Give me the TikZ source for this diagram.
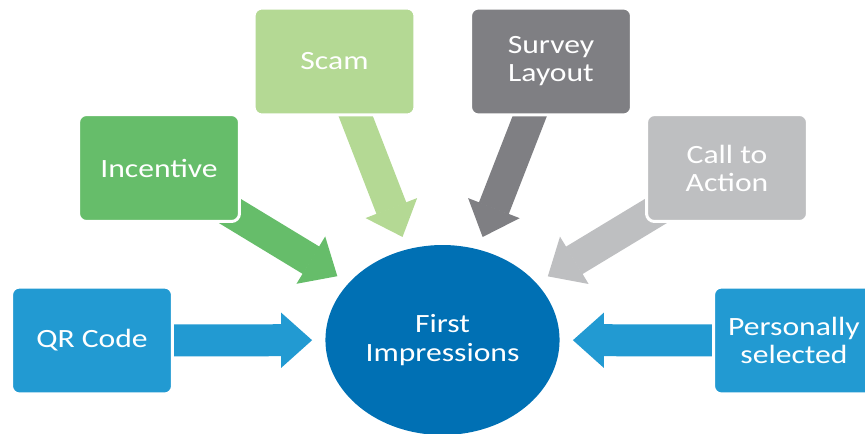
\documentclass[tikz,border=0pt]{standalone}
\usepackage{fontspec}
\setmainfont{Carlito}[FakeStretch=1.2]
\usetikzlibrary{arrows.meta,shapes.geometric,backgrounds}

\definecolor{qrblue}{RGB}{34,154,210}
\definecolor{coreblue}{RGB}{0,112,180}
\definecolor{incgreen}{RGB}{102,189,106}
\definecolor{scamgreen}{RGB}{180,217,148}
\definecolor{surveygray}{RGB}{127,127,131}
\definecolor{callgray}{RGB}{190,191,193}

\begin{document}
\begin{tikzpicture}[x=0.02cm, y=-0.02cm,
    factor/.style={draw=white, line width=0.06cm, rounded corners=0.16cm,
      minimum width=3.22cm, minimum height=2.14cm, align=center,
      text=white, font=\fontsize{15}{16}\selectfont},
    push/.style={line width=0.64cm, shorten >=0.26cm,
      -{Triangle[length=0.62cm, width=1.1cm, line width=1pt]}}]

  \path[use as bounding box, clip] (0,0) rectangle (865,433);

  \node[ellipse, fill=coreblue, minimum width=4.56cm, minimum height=3.8cm,
    align=center, text=white, font=\fontsize{15}{16}\selectfont]
    (fi) at (442.5,340) {First\\Impressions};

  \node[factor, fill=qrblue]     (qr)  at (92,340.5)  {QR Code};
  \node[factor, fill=incgreen]   (inc) at (159,168)   {Incentive};
  \node[factor, fill=scamgreen]  (scm) at (334.5,61.5) {Scam};
  \node[factor, fill=surveygray] (svy) at (551,61.5)  {Survey\\Layout};
  \node[factor, fill=callgray]   (cta) at (727,168)   {Call to\\Action};
  \node[factor, fill=qrblue]     (pst) at (794,340.5) {Personally\\selected};

  \begin{scope}[on background layer]
    \draw[push, qrblue]     (qr.center)  -- (fi);
    \draw[push, incgreen]   (inc.center) -- (fi);
    \draw[push, scamgreen]  (scm.center) -- (fi);
    \draw[push, surveygray] (svy.center) -- (fi);
    \draw[push, callgray]   (cta.center) -- (fi);
    \draw[push, qrblue]     (pst.center) -- (fi);
  \end{scope}

\end{tikzpicture}
\end{document}
